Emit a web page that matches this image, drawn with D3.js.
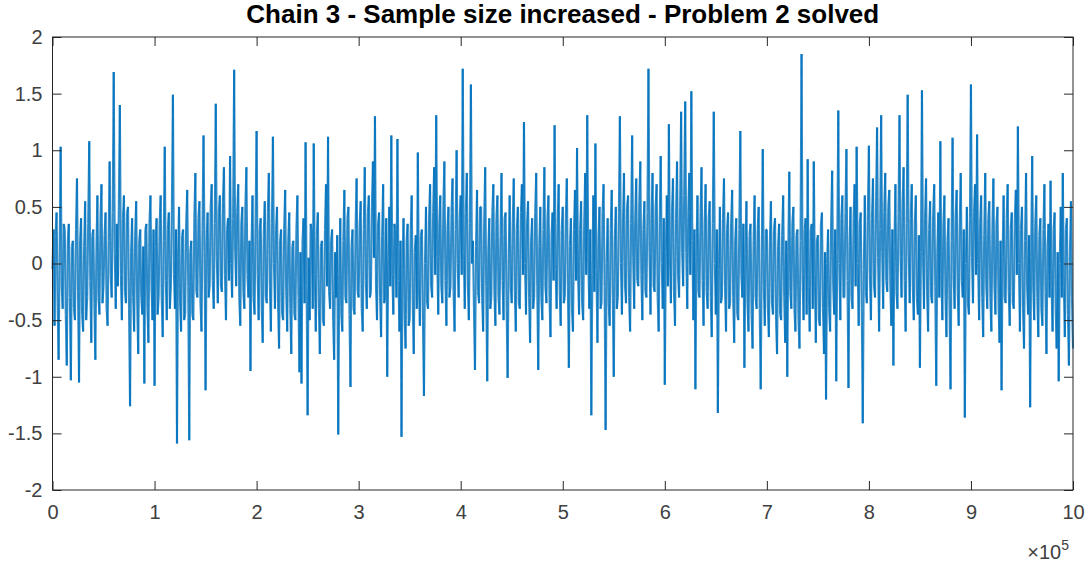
<!DOCTYPE html>
<html>
<head>
<meta charset="utf-8">
<script src="https://cdn.jsdelivr.net/npm/d3@7"></script>
<style>
  body { margin: 0; background: #fff; }
  svg { display: block; font-family: "Liberation Sans", Arial, sans-serif; }
</style>
</head>
<body>
<div id="chart"></div>
<script>
// Chain 3 trace at about one value per pixel column (0 .. 1e6 samples)
const chainValues = [
  -0.05, 0.3, -0.55, 0.25, 0.45, -0.35, -0.85, 0.1, 1.03, -0.2, -0.4, 0.35, 0.3, -0.45, -0.9, 0.2, 0.35, -0.3, -1.03, 0.15,
  0.2, -0.4, -0.5, 0.3, 0.75, -0.25, -1.05, 0.2, 0.4, -0.45, -0.6, 0.15, 0.55, -0.5, -0.3, 0.35, 1.08, -0.15, -0.7, 0.25,
  0.3, -0.35, -0.85, 0.1, 0.6, -0.3, -0.45, 0.4, 0.7, -0.35, -0.2, 0.25, 0.45, -0.4, -0.55, 0.2, 0.9, -0.1, -0.3, 0.45,
  1.69, 0.1, -0.4, 0.35, -0.2, 0.5, 1.40, -0.1, -0.5, 0.4, 0.6, -0.25, -0.35, 0.45, 0.5, -0.4, -1.26, 0.1, 0.4, -0.3,
  -0.6, 0.25, 0.55, -0.35, -0.8, 0.2, 0.3, -0.3, -0.45, 0.15, -1.06, 0.3, 0.35, -0.4, -0.7, 0.35, 0.6, -0.2, -0.5, 0.3,
  -1.08, 0.15, 0.4, -0.45, -0.3, 0.35, 0.6, -0.3, -0.65, 0.2, 1.03, -0.15, -0.5, 0.3, 0.45, -0.4, -0.2, 0.5, 1.49, -0.1,
  -0.4, 0.3, -1.59, 0.05, 0.5, -0.35, -0.6, 0.25, 0.3, -0.5, -0.45, 0.35, 0.65, -0.2, -1.56, 0.1, 0.2, -0.45, -0.5, 0.4,
  0.8, -0.25, -0.3, 0.4, 0.55, -0.35, -0.6, 0.3, 1.13, 0.1, -1.12, 0.2, 0.45, -0.3, -0.2, 0.5, 0.7, -0.15, -0.4, 0.35,
  1.41, 0.05, -0.35, 0.45, 0.6, -0.2, -0.25, 0.55, 0.85, -0.1, -0.5, 0.3, 0.4, -0.15, 0.95, 0.0, -0.3, 0.4, 1.71, 0.1,
  -0.2, 0.45, 0.7, -0.3, -0.55, 0.35, 0.5, -0.25, -0.4, 0.5, 0.85, -0.1, -0.3, 0.2, -0.95, 0.15, 0.6, -0.3, -0.45, 0.4,
  1.17, -0.1, -0.5, 0.3, 0.4, -0.4, -0.7, 0.25, 0.55, -0.3, -0.35, 0.45, 0.8, -0.2, -0.6, 0.35, 1.12, 0.0, -0.4, 0.3,
  0.5, -0.35, -0.75, 0.2, 0.3, -0.45, -0.5, 0.3, 0.65, -0.25, -0.6, 0.2, 0.45, -0.4, -0.8, 0.15, 0.2, -0.45, -0.5, 0.3,
  0.6, -0.3, -0.96, 0.1, -1.06, 0.2, 0.4, -0.35, 1.07, -0.2, -1.34, 0.05, -0.5, 0.35, 0.3, -0.4, 1.06, -0.1, -0.6, 0.25,
  0.45, -0.4, -0.8, 0.15, 0.2, -0.5, -0.55, 0.3, 0.7, -0.2, 1.12, -0.25, -0.4, 0.2, 0.3, -0.5, -0.85, 0.1, -0.3, 0.25,
  -1.51, -0.1, 0.4, -0.45, -0.6, 0.2, 0.65, -0.3, -0.35, 0.4, 0.5, -0.45, -1.09, 0.15, 0.3, -0.4, -0.45, 0.3, 0.75, -0.25,
  -0.3, 0.35, 0.55, -0.4, -0.6, 0.3, 0.85, -0.15, -0.4, 0.45, 0.6, -0.3, -0.25, 0.5, 0.9, 0.05, 1.30, -0.2, -0.5, 0.35,
  0.45, -0.3, -0.65, 0.25, 0.7, -0.35, -0.3, 0.4, -1.0, 0.05, 0.5, -0.2, 1.13, -0.1, -0.45, 0.35, 0.3, -0.3, 1.10, -0.15,
  -0.6, 0.2, -1.53, -0.05, 0.4, -0.45, -0.75, 0.2, 0.35, -0.55, -0.5, 0.3, 0.6, -0.35, -0.8, 0.1, 0.25, -0.4, 0.98, -0.2,
  -0.55, 0.25, 0.3, -0.5, -1.17, 0.0, 0.5, -0.35, -0.4, 0.4, 0.7, -0.2, -0.3, 0.45, 0.85, -0.1, 1.31, 0.05, -0.45, 0.35,
  0.6, -0.2, -0.35, 0.5, 0.9, -0.15, -0.55, 0.3, 0.5, -0.3, -0.2, 0.45, 0.75, -0.25, -0.6, 0.3, 1.0, 0.0, -0.3, 0.4,
  0.6, -0.1, 1.72, 0.1, -0.4, 0.45, 0.8, -0.2, -0.5, 0.35, 1.58, 0.0, 0.2, -0.4, -0.94, 0.15, 0.65, -0.25, -0.35, 0.5,
  0.5, -0.3, -0.6, 0.35, 0.85, -0.2, -1.04, 0.1, 0.4, -0.4, -0.3, 0.45, 0.7, -0.25, -0.55, 0.4, 0.6, -0.3, -0.45, 0.25,
  0.8, -0.15, -0.5, 0.4, 0.45, -0.4, -1.01, 0.05, 0.6, -0.2, -0.35, 0.35, 0.75, -0.25, -0.6, 0.3, 0.5, -0.35, -0.4, 0.45,
  0.7, -0.1, 1.25, 0.0, -0.45, 0.35, 0.55, -0.3, -0.7, 0.2, 0.4, -0.4, -0.3, 0.45, 0.8, -0.2, -0.94, 0.15, 0.5, -0.3,
  -0.5, 0.3, 0.85, -0.2, -0.35, 0.4, 0.6, -0.3, -0.65, 0.25, 0.45, -0.15, 1.22, -0.05, -0.4, 0.35, 0.7, -0.25, -0.55, 0.3,
  0.5, -0.35, -0.3, 0.4, 0.75, -0.2, -0.92, 0.15, 0.4, -0.4, -0.6, 0.3, 0.65, -0.15, 1.02, -0.1, -0.45, 0.3, 0.55, -0.35,
  -0.5, 0.35, 0.8, -0.1, 1.31, 0.05, -0.4, 0.3, -1.34, -0.1, 0.6, -0.25, 1.06, -0.05, -0.7, 0.2, 0.5, -0.4, -0.35, 0.45,
  0.7, -0.2, -1.47, 0.0, 0.4, -0.35, -0.55, 0.3, 0.65, -0.3, -1.0, 0.2, 0.5, -0.4, -0.3, 0.45, 1.30, 0.0, -0.45, 0.35,
  0.8, -0.2, -0.35, 0.5, 0.6, -0.3, -0.6, 0.35, 1.13, 0.05, -0.4, 0.4, 0.75, -0.15, -0.2, 0.55, 0.9, -0.1, -0.5, 0.3,
  0.55, -0.25, -0.3, 0.45, 1.72, 0.1, -0.45, 0.4, 0.8, -0.2, -0.25, 0.5, 0.7, -0.3, -0.6, 0.35, 0.95, 0.0, -0.4, 0.4,
  -1.07, 0.1, 0.6, -0.2, 1.23, 0.05, -0.35, 0.45, 0.75, -0.25, -0.55, 0.4, 0.9, -0.1, -0.3, 0.5, 1.34, 0.1, -0.2, 0.6,
  1.43, 0.1, -0.4, 0.45, 0.8, -0.1, 1.52, 0.2, -0.5, 0.3, -1.11, 0.05, 0.6, -0.25, -0.3, 0.45, 0.85, -0.15, -0.55, 0.35,
  0.7, -0.25, -0.4, 0.4, 0.55, -0.3, -0.65, 0.35, 1.34, 0.0, -0.45, 0.3, -1.32, -0.05, 0.5, -0.35, -0.3, 0.4, 0.75, -0.2,
  -0.6, 0.3, 0.45, -0.4, -0.35, 0.35, 0.65, -0.3, -0.7, 0.2, 0.4, -0.45, -0.5, 0.3, 1.17, -0.1, -0.3, 0.35, -0.92, 0.1,
  0.55, -0.35, -0.6, 0.25, 0.35, -0.45, -0.75, 0.2, 0.6, -0.3, -0.4, 0.3, 0.5, -0.4, -1.11, 0.05, 1.01, -0.2, -0.55, 0.3,
  0.3, -0.4, -0.65, 0.2, 0.55, -0.35, -0.45, 0.3, 0.4, -0.5, -0.8, 0.15, 0.35, -0.45, -0.5, 0.25, 0.6, -0.3, -0.7, 0.2,
  -1.0, 0.1, 0.81, -0.25, -0.4, 0.35, 0.5, -0.4, -0.6, 0.25, 0.3, -0.5, -0.75, 0.2, 1.85, -0.1, -0.5, 0.3, 0.4, -0.45,
  0.92, -0.2, -0.6, 0.3, 0.35, -0.4, 0.90, -0.1, -0.7, 0.2, 0.25, -0.5, -0.55, 0.35, 0.45, -0.4, -0.8, 0.1, -1.2, 0.0,
  0.3, -0.4, -0.6, 0.35, 0.82, -0.2, -0.45, 0.3, -1.04, 0.1, 1.35, 0.0, -0.5, 0.4, 0.6, -0.3, -0.3, 0.45, 1.01, -0.15,
  -1.1, 0.15, 0.5, -0.3, -0.4, 0.4, 0.7, -0.2, 1.03, 0.0, -0.55, 0.35, 0.45, -0.4, -1.41, -0.05, 0.6, -0.25, -0.35, 0.45,
  1.04, -0.1, -0.5, 0.4, 0.75, -0.2, -0.3, 0.5, 1.20, 0.05, -0.6, 0.3, 1.31, 0.1, -0.4, 0.45, 0.8, -0.15, -0.25, 0.5,
  0.65, -0.2, -0.55, 0.3, -0.9, 0.15, 0.7, -0.25, -0.4, 0.45, 1.31, 0.05, -0.3, 0.5, 0.85, -0.15, -0.6, 0.35, 1.49, 0.1,
  -0.35, 0.4, 0.7, -0.2, -0.5, 0.35, 0.6, -0.3, -0.45, 0.25, -0.92, 0.1, 1.53, 0.05, -0.4, 0.4, 0.75, -0.25, -0.6, 0.3,
  0.55, -0.3, -0.35, 0.45, 0.7, -0.2, -1.08, 0.1, 0.45, -0.3, 1.08, -0.1, -0.5, 0.35, 0.6, -0.3, -0.65, 0.2, 0.4, -0.4,
  -1.11, 0.2, 1.11, -0.1, -0.4, 0.4, 0.65, -0.25, -0.55, 0.35, 0.8, -0.15, -0.3, 0.3, -1.36, 0.0, 0.5, -0.35, -0.45, 0.4,
  1.58, 0.05, -0.35, 0.45, 0.7, -0.1, 1.14, 0.0, -0.5, 0.35, 0.6, -0.3, -0.65, 0.25, 0.8, -0.2, -0.4, 0.4, 0.55, -0.3,
  -0.6, 0.3, 0.75, -0.2, -0.45, 0.35, 0.5, -0.35, -0.7, 0.2, -1.12, 0.05, 0.6, -0.3, -0.35, 0.4, 0.7, -0.25, -0.55, 0.3,
  0.45, -0.35, -0.4, 0.4, 0.65, -0.1, 1.21, 0.0, -0.6, 0.3, 0.5, -0.4, -0.75, 0.2, 0.8, -0.2, -0.45, 0.25, -1.27, 0.05,
  0.95, -0.2, -0.5, 0.35, 0.6, -0.3, -0.65, 0.25, 0.4, -0.4, -0.55, 0.3, 0.7, -0.25, -0.8, 0.15, 0.35, -0.3, 0.73, -0.2,
  -0.6, 0.3, 0.45, -0.4, -0.75, 0.1, -1.04, 0.0, 0.5, -0.3, 0.80, -0.2, -0.65, 0.3, 0.4, -0.45, -0.9, 0.1, 0.55, -0.3,
  -0.75
];
const totalSamples = 1e6;
const xTicks = [0, 1, 2, 3, 4, 5, 6, 7, 8, 9, 10];   // in units of 1e5
const yTicks = [-2, -1.5, -1, -0.5, 0, 0.5, 1, 1.5, 2];
const chartTitle = "Chain 3 - Sample size increased - Problem 2 solved";

const width = 1086;
const height = 567;
const margin = { top: 37, right: 13, bottom: 77, left: 52.5 };
const tickLen = 9;
const axisColor = "#262626";
const labelColor = "#404040";

const svg = d3.select("#chart")
  .append("svg")
  .attr("width", width)
  .attr("height", height);

const x = d3.scaleLinear()
  .domain([0, 10])
  .range([margin.left, width - margin.right]);

const y = d3.scaleLinear()
  .domain([-2, 2])
  .range([height - margin.bottom, margin.top]);

const step = totalSamples / (chainValues.length - 1);
const points = chainValues.map((v, i) => ({ x: i * step / 1e5, y: v }));
const segments = d3.pairs(points);

// trace, drawn segment by segment so the dense middle builds up darker
// while the lone spikes stay lighter, as in the picture
svg.append("g")
  .attr("stroke", "#0072BD")
  .attr("stroke-width", 2.1)
  .attr("stroke-opacity", 0.8)
  .attr("stroke-linecap", "butt")
  .selectAll("line")
  .data(segments)
  .join("line")
  .attr("x1", d => x(d[0].x))
  .attr("y1", d => y(d[0].y))
  .attr("x2", d => x(d[1].x))
  .attr("y2", d => y(d[1].y));

// box
svg.append("rect")
  .attr("x", x(0))
  .attr("y", y(2))
  .attr("width", x(10) - x(0))
  .attr("height", y(-2) - y(2))
  .attr("fill", "none")
  .attr("stroke", axisColor)
  .attr("stroke-width", 1);

// axes, ticks pointing inward (MATLAB style)
svg.append("g")
  .attr("transform", `translate(0,${y(-2)})`)
  .call(d3.axisBottom(x).tickValues(xTicks).tickSizeInner(-tickLen).tickSizeOuter(0).tickPadding(15).tickFormat(d3.format("d")));

svg.append("g")
  .attr("transform", `translate(0,${y(2)})`)
  .call(d3.axisTop(x).tickValues(xTicks).tickSizeInner(-tickLen).tickSizeOuter(0).tickFormat(""));

const leftAxis = svg.append("g")
  .attr("transform", `translate(${x(0)},0)`)
  .call(d3.axisLeft(y).tickValues(yTicks).tickSizeInner(-tickLen).tickSizeOuter(0).tickPadding(10));

svg.append("g")
  .attr("transform", `translate(${x(10)},0)`)
  .call(d3.axisRight(y).tickValues(yTicks).tickSizeInner(-tickLen).tickSizeOuter(0).tickFormat(""));

svg.selectAll(".domain").remove();
svg.selectAll(".tick line").attr("stroke", axisColor);
svg.selectAll(".tick text")
  .attr("fill", labelColor)
  .style("font-size", "20px");

leftAxis.selectAll(".tick text").text(d => d < 0 ? "-" + Math.abs(d) : d);

// exponent label
const expo = svg.append("text")
  .attr("x", x(10) - 4)
  .attr("y", 559)
  .attr("text-anchor", "end")
  .attr("fill", labelColor)
  .style("font-size", "20px");
expo.append("tspan").text("\u00d7");
expo.append("tspan").text("10");
expo.append("tspan").attr("dy", -9).style("font-size", "14px").text("5");

// title
svg.append("text")
  .attr("x", (x(0) + x(10)) / 2)
  .attr("y", 23)
  .attr("text-anchor", "middle")
  .attr("fill", "#000")
  .style("font-size", "26px")
  .style("font-weight", "bold")
  .text(chartTitle);
</script>
</body>
</html>
